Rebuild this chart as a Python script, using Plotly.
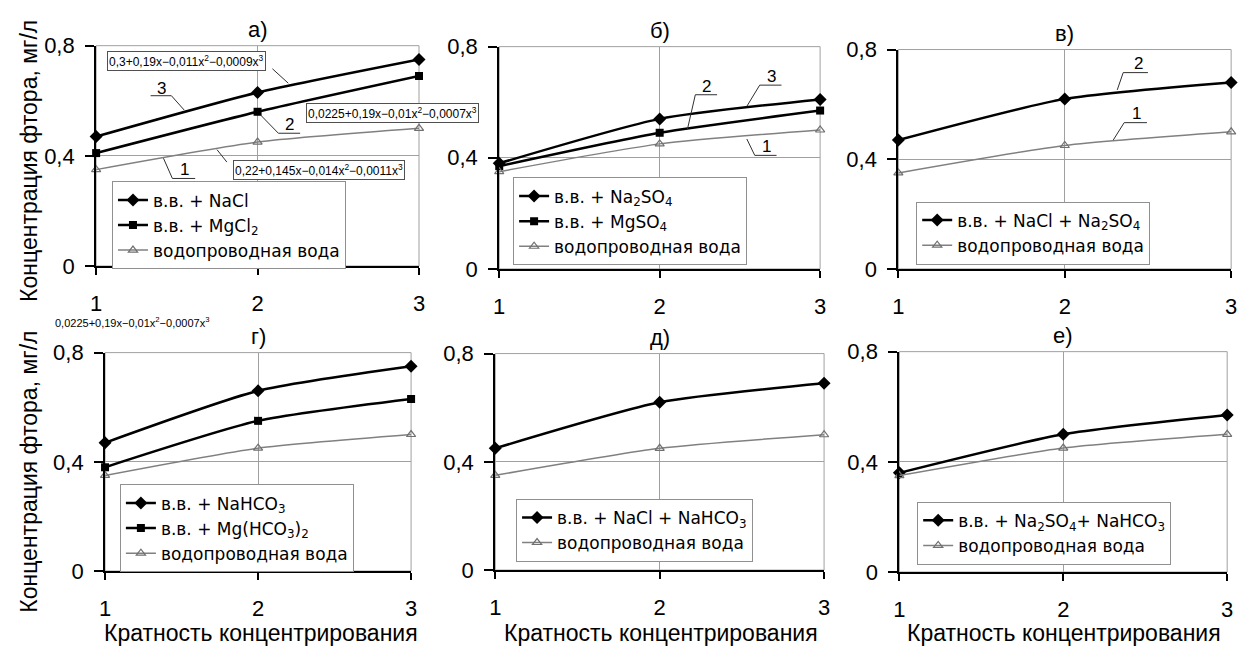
import plotly.graph_objects as go

W, H = 1252, 661

# ---------------- data ----------------
x_vals = [1, 2, 3]
x_ticktext = ["1", "2", "3"]
y_tickvals = [0, 0.4, 0.8]
y_ticktext = ["0", "0,4", "0,8"]

tap_water = [0.35, 0.45, 0.50]

a_nacl = [0.47, 0.63, 0.75]
a_mgcl2 = [0.41, 0.56, 0.69]
b_na2so4 = [0.38, 0.54, 0.61]
b_mgso4 = [0.37, 0.49, 0.57]
v_nacl_na2so4 = [0.47, 0.62, 0.68]
g_nahco3 = [0.47, 0.66, 0.75]
g_mghco3 = [0.38, 0.55, 0.63]
d_nacl_nahco3 = [0.45, 0.62, 0.69]
e_na2so4_nahco3 = [0.36, 0.50, 0.57]

panel_titles = ["а)", "б)", "в)", "г)", "д)", "е)"]
tap_name = "водопроводная вода"
y_title = "Концентрация фтора, мг/л"
x_title = "Кратность концентрирования"

FONT = "Liberation Sans, Arial, sans-serif"
LEG_FONT = "DejaVu Sans, Liberation Sans, sans-serif"


def px(x, y):
    return x / W, 1 - y / H


# panel plot-area boxes in pixels (left, right, top, bottom)
boxes = [
    (91, 417, 35, 264),
    (498, 822, 36, 267),
    (901, 1237, 39, 267),
    (100, 409, 354, 581),
    (494, 826, 355, 580),
    (902, 1233, 353, 582),
]
legend_pos = [(107, 176), (512, 172), (919, 197), (115, 491), (515, 506), (920, 509)]

series = [
    [("в.в. + NaCl", a_nacl, "diamond"), ("в.в. + MgCl<sub>2</sub>", a_mgcl2, "square")],
    [("в.в. + Na<sub>2</sub>SO<sub>4</sub>", b_na2so4, "diamond"), ("в.в. + MgSO<sub>4</sub>", b_mgso4, "square")],
    [("в.в. + NaCl + Na<sub>2</sub>SO<sub>4</sub>", v_nacl_na2so4, "diamond")],
    [("в.в. + NaHCO<sub>3</sub>", g_nahco3, "diamond"), ("в.в. + Mg(HCO<sub>3</sub>)<sub>2</sub>", g_mghco3, "square")],
    [("в.в. + NaCl + NaHCO<sub>3</sub>", d_nacl_nahco3, "diamond")],
    [("в.в. + Na<sub>2</sub>SO<sub>4</sub>+ NaHCO<sub>3</sub>", e_na2so4_nahco3, "diamond")],
]

fig = go.Figure()
layout = dict(
    width=W, height=H, margin=dict(l=0, r=0, t=0, b=0),
    paper_bgcolor="white", plot_bgcolor="white",
    font=dict(family=FONT, color="black", size=20),
    showlegend=True,
)

annotations = []
shapes = []


def note(text, x, y, size, **kw):
    ax, ay = px(x, y)
    d = dict(text=text, x=ax, y=ay, xref="paper", yref="paper", showarrow=False,
             xanchor="center", yanchor="middle", font=dict(size=size, family=FONT, color="black"))
    d.update(kw)
    annotations.append(d)


def seg(p0, p1, color="#303030", width=1):
    a = px(*p0)
    b = px(*p1)
    shapes.append(dict(type="line", xref="paper", yref="paper", x0=a[0], y0=a[1],
                       x1=b[0], y1=b[1], line=dict(color=color, width=width)))


for i, (l, r, t, b) in enumerate(boxes):
    n = i + 1
    xs = "" if n == 1 else str(n)
    xa, ya = "x" + xs, "y" + xs
    leg = "legend" if n == 1 else "legend%d" % n
    for name, vals, sym in series[i]:
        fig.add_trace(go.Scatter(
            x=x_vals, y=vals, name=name, mode="lines+markers",
            line=dict(color="black", width=2.5, shape="spline", smoothing=0.6),
            marker=dict(symbol=sym, size=10 if sym == "diamond" else 8, color="black"),
            xaxis=xa, yaxis=ya, legend=leg, cliponaxis=False,
        ))
    fig.add_trace(go.Scatter(
        x=x_vals, y=tap_water, name=tap_name, mode="lines+markers",
        line=dict(color="#808080", width=1.5, shape="spline", smoothing=0.6),
        marker=dict(symbol="triangle-up-open", size=8, color="#707070", line=dict(width=1.2)),
        xaxis=xa, yaxis=ya, legend=leg, cliponaxis=False,
    ))
    x0, _ = px(l, 0)
    x1, _ = px(r, 0)
    _, y1 = px(0, t)
    _, y0 = px(0, b)
    common = dict(showline=True, linecolor="black", linewidth=2, ticks="outside",
                  tickwidth=2, tickcolor="black", showgrid=True,
                  gridcolor="#a0a0a0", gridwidth=1, zeroline=False,
                  tickfont=dict(size=22, family=FONT), fixedrange=True)
    layout["xaxis" + xs] = dict(domain=[x0, x1], range=[1, 3], tickvals=x_vals,
                                ticktext=x_ticktext, anchor=ya, ticklen=7,
                                ticklabelstandoff=10, **common)
    layout["yaxis" + xs] = dict(domain=[y0, y1], range=[0, 0.8], tickvals=y_tickvals,
                                ticktext=y_ticktext, anchor=xa, ticklen=9,
                                ticklabelstandoff=6, **common)
    # light grey frame of the plot area
    shapes.append(dict(type="rect", xref=xa + " domain", yref=ya + " domain",
                       x0=0, x1=1, y0=0, y1=1, layer="below",
                       line=dict(color="#a0a0a0", width=1)))
    lx, ly = px(*legend_pos[i])
    layout[leg] = dict(x=lx, y=ly, xanchor="left", yanchor="top", bgcolor="white",
                       bordercolor="#909090", borderwidth=1,
                       font=dict(size=17, family=LEG_FONT, color="black"), tracegroupgap=0)
    note(panel_titles[i], (l + r) / 2, t - 17, 22)

# axis titles
for cy in (155, 478):
    note(y_title, 23, cy, 23, textangle=-90)
for cx in (257, 661, 1068):
    note(x_title, cx, 645, 23)

# equation boxes
boxed = dict(bgcolor="white", bordercolor="#505050", borderwidth=1, borderpad=1)
note("0,3+0,19x−0,011x<sup>2</sup>−0,0009x<sup>3</sup>", 182, 51, 12, **boxed)
note("0,0225+0,19x−0,01x<sup>2</sup>−0,0007x<sup>3</sup>", 390, 105, 12, **boxed)
note("0,22+0,145x−0,014x<sup>2</sup>−0,0011x<sup>3</sup>", 316, 164, 12, **boxed)
note("0,0225+0,19x−0,01x<sup>2</sup>−0,0007x<sup>3</sup>", 127, 322, 11)

# curve number labels with leader lines
labels = [
    ("3", 157, 79, 146, 167, 87, (167, 87), (180, 102)),
    ("2", 286, 117, 275, 297, 126, (275, 126), (257, 107)),
    ("1", 180, 164, 168, 191, 173, (168, 173), (159, 152)),
    ("2", 707, 77, 696, 718, 86, (696, 86), (688, 122)),
    ("3", 773, 67, 761, 783, 76, (761, 76), (748, 98)),
    ("1", 768, 140, 756, 778, 149, (756, 149), (748, 132)),
    ("2", 1143, 54, 1128, 1153, 63, (1128, 63), (1122, 81)),
    ("1", 1141, 106, 1129, 1152, 115, (1129, 115), (1118, 133)),
]
for lab, tx, ty, ux0, ux1, uy, p0, p1 in labels:
    note(lab, tx, ty, 17)
    seg((ux0, uy), (ux1, uy))
    seg(p0, p1)

# leader lines for equation boxes
seg((269, 59), (285, 74))
seg((213, 143), (223, 156))

layout["annotations"] = annotations
layout["shapes"] = shapes
fig.update_layout(**layout)
fig.write_html("out.html")
